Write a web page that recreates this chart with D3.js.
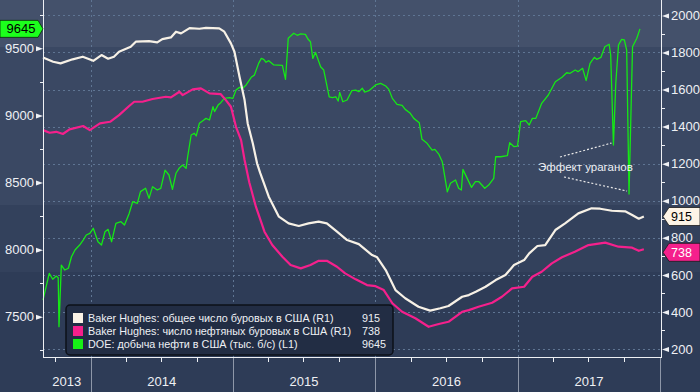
<!DOCTYPE html>
<html lang="ru">
<head>
<meta charset="UTF-8">
<title>Буровые и добыча нефти в США</title>
<script src="https://d3js.org/d3.v7.min.js"></script>
<style>
  body { margin: 0; background: #2e3c57; }
  svg { display: block; font-family: "Liberation Sans", Arial, sans-serif; }
</style>
</head>
<body>
<div id="chart"></div>
<script>
// Baker Hughes: total rig count (right axis)
const totalRigs = [
  ["2013-09-01",1773],["2013-09-27",1750],["2013-10-16",1741],["2013-11-16",1763],["2013-12-12",1777],
  ["2014-01-08",1755],["2014-01-29",1786],["2014-02-15",1766],["2014-03-02",1777],["2014-03-15",1804],
  ["2014-04-14",1831],["2014-04-27",1858],["2014-05-31",1861],["2014-06-21",1854],["2014-07-04",1872],
  ["2014-07-26",1881],["2014-08-08",1912],["2014-08-21",1903],["2014-09-12",1931],["2014-10-07",1928],
  ["2014-10-24",1933],["2014-11-27",1930],["2014-12-10",1912],["2014-12-27",1849],["2015-01-05",1804],
  ["2015-01-18",1669],["2015-01-31",1543],["2015-02-08",1417],["2015-02-21",1310],["2015-03-04",1202],
  ["2015-03-12",1150],["2015-04-03",1022],["2015-04-29",914],["2015-05-24",878],["2015-06-19",864],
  ["2015-07-14",878],["2015-08-09",887],["2015-08-30",878],["2015-09-25",833],["2015-10-21",788],
  ["2015-11-20",766],["2015-12-24",707],["2016-01-06",695],["2016-01-28",626],["2016-02-22",518],
  ["2016-03-18",474],["2016-04-21",428],["2016-05-21",407],["2016-06-16",420],["2016-07-07",432],
  ["2016-08-11",482],["2016-08-28",491],["2016-09-15",509],["2016-10-10",536],["2016-11-05",572],
  ["2016-11-30",599],["2016-12-22",653],["2017-01-17",680],["2017-01-30",716],["2017-02-20",756],
  ["2017-03-12",761],["2017-04-07",842],["2017-05-02",878],["2017-06-05",932],["2017-07-09",959],
  ["2017-07-31",957],["2017-08-30",946],["2017-10-03",943],["2017-10-21",923],["2017-11-07",903],
  ["2017-11-20",915]
];

// Baker Hughes: oil rig count (right axis)
const oilRigs = [
  ["2013-09-01",1381],["2013-09-18",1367],["2013-10-05",1372],["2013-10-22",1360],["2013-11-08",1385],
  ["2013-12-13",1403],["2013-12-30",1381],["2014-01-25",1417],["2014-02-20",1426],["2014-03-15",1462],
  ["2014-04-10",1511],["2014-04-23",1534],["2014-05-14",1534],["2014-06-09",1549],["2014-07-13",1561],
  ["2014-07-26",1558],["2014-08-17",1588],["2014-08-25",1570],["2014-09-20",1601],["2014-10-11",1606],
  ["2014-11-02",1579],["2014-12-01",1575],["2014-12-14",1543],["2014-12-27",1507],["2015-01-09",1399],
  ["2015-01-22",1327],["2015-01-31",1220],["2015-02-12",1100],["2015-03-01",968],["2015-03-23",833],
  ["2015-04-12",761],["2015-05-08",698],["2015-05-29",653],["2015-06-24",635],["2015-07-19",653],
  ["2015-08-09",676],["2015-08-30",676],["2015-09-25",644],["2015-10-16",608],["2015-11-12",576],
  ["2015-12-11",545],["2016-01-02",539],["2016-01-23",518],["2016-02-14",447],["2016-03-10",401],
  ["2016-04-13",366],["2016-05-17",320],["2016-06-12",335],["2016-07-07",347],["2016-08-11",401],
  ["2016-08-28",410],["2016-09-22",428],["2016-10-27",450],["2016-11-21",482],["2016-12-17",527],
  ["2017-01-17",536],["2017-02-07",590],["2017-03-03",617],["2017-03-29",662],["2017-04-24",695],
  ["2017-05-27",725],["2017-07-01",761],["2017-08-13",774],["2017-09-16",752],["2017-10-21",747],
  ["2017-11-07",730],["2017-11-20",738]
];

// DOE: US crude production, thousand b/d (left axis)
const production = [
  ["2013-09-01",7624],["2013-09-17",7823],["2013-09-26",7779],["2013-10-05",7803],["2013-10-10",7790],
  ["2013-10-12",7426],["2013-10-18",7885],["2013-10-27",7848],["2013-11-05",7861],["2013-11-13",7947],
  ["2013-11-22",7997],["2013-12-04",8034],["2013-12-13",8071],["2013-12-21",8109],["2013-12-30",8121],
  ["2014-01-08",8159],["2014-01-20",8059],["2014-01-29",8034],["2014-02-07",8133],["2014-02-15",8151],
  ["2014-02-24",8059],["2014-03-07",8196],["2014-03-20",8208],["2014-03-29",8183],["2014-04-10",8270],
  ["2014-04-19",8357],["2014-05-01",8345],["2014-05-09",8432],["2014-05-22",8457],["2014-05-31",8382],
  ["2014-06-09",8469],["2014-06-21",8444],["2014-06-30",8457],["2014-07-11",8593],["2014-07-21",8556],
  ["2014-07-30",8449],["2014-08-08",8569],["2014-08-16",8606],["2014-08-25",8630],["2014-09-03",8606],
  ["2014-09-07",8692],["2014-09-16",8854],["2014-09-24",8867],["2014-09-29",8847],["2014-10-07",8941],
  ["2014-10-16",8961],["2014-10-24",8978],["2014-11-02",8966],["2014-11-11",9065],["2014-11-15",9028],
  ["2014-11-24",9077],["2014-12-01",9095],["2014-12-10",9127],["2014-12-23",9132],["2015-01-01",9127],
  ["2015-01-09",9189],["2015-01-18",9209],["2015-01-26",9202],["2015-02-04",9227],["2015-02-17",9284],
  ["2015-02-25",9300],["2015-03-08",9388],["2015-03-15",9425],["2015-03-21",9418],["2015-03-27",9396],
  ["2015-04-03",9408],["2015-04-16",9376],["2015-05-08",9373],["2015-05-16",9269],["2015-05-23",9575],
  ["2015-06-06",9612],["2015-06-15",9597],["2015-06-24",9607],["2015-07-06",9604],["2015-07-13",9567],
  ["2015-07-19",9549],["2015-07-25",9425],["2015-08-01",9470],["2015-08-14",9363],["2015-08-22",9338],
  ["2015-09-05",9139],["2015-09-13",9132],["2015-09-22",9139],["2015-09-28",9107],["2015-10-02",9172],
  ["2015-10-10",9102],["2015-10-21",9115],["2015-11-02",9184],["2015-11-12",9189],["2015-11-20",9177],
  ["2015-11-29",9202],["2015-12-05",9174],["2015-12-16",9184],["2016-01-02",9227],["2016-01-15",9239],
  ["2016-01-28",9219],["2016-02-05",9194],["2016-02-14",9127],["2016-02-26",9083],["2016-03-10",9075],
  ["2016-03-18",9045],["2016-03-31",9016],["2016-04-09",8978],["2016-04-23",8946],["2016-04-30",8822],
  ["2016-05-13",8792],["2016-05-26",8742],["2016-06-02",8747],["2016-06-12",8712],["2016-06-21",8655],
  ["2016-07-04",8431],["2016-07-12",8494],["2016-07-25",8519],["2016-08-02",8457],["2016-08-09",8444],
  ["2016-08-13",8598],["2016-08-24",8531],["2016-09-04",8464],["2016-09-14",8506],["2016-09-23",8506],
  ["2016-10-08",8457],["2016-10-18",8481],["2016-10-31",8531],["2016-11-05",8692],["2016-11-18",8692],
  ["2016-12-05",8700],["2016-12-11",8797],["2016-12-22",8767],["2016-12-31",8772],["2017-01-08",8953],
  ["2017-01-21",8961],["2017-01-30",8928],["2017-02-07",8978],["2017-02-16",8978],["2017-03-03",9090],
  ["2017-03-20",9152],["2017-04-07",9251],["2017-04-24",9284],["2017-05-06",9318],["2017-05-15",9314],
  ["2017-05-28",9338],["2017-06-04",9326],["2017-06-16",9351],["2017-06-25",9259],["2017-07-05",9388],
  ["2017-07-16",9433],["2017-07-22",9418],["2017-08-02",9433],["2017-08-12",9512],["2017-08-23",9530],
  ["2017-08-27",9450],["2017-09-03",8779],["2017-09-09",9239],["2017-09-16",9525],["2017-09-24",9567],
  ["2017-10-01",9562],["2017-10-07",9487],["2017-10-13",8414],["2017-10-22",9512],["2017-11-02",9575],
  ["2017-11-10",9645]
];

const leftTicks = [7500, 8000, 8500, 9000, 9500];
const leftMinor = [7250, 7750, 8250, 8750, 9250, 9750];
const rightTicks = [200, 400, 600, 800, 1000, 1200, 1400, 1600, 1800, 2000];
const rightMinor = [300, 500, 700, 900, 1100, 1300, 1500, 1700, 1900];
const years = [2013, 2014, 2015, 2016, 2017];
const legendLabels = [
  "Baker Hughes: общее число буровых в США (R1)",
  "Baker Hughes: число нефтяных буровых в США (R1)",
  "DOE: добыча нефти в США (тыс. б/с) (L1)"
];
const lastValues = [915, 738, 9645];
const hurricaneDips = ["2017-09-03", "2017-10-13"];
const noteText = "Эффект ураганов";

const width = 700, height = 392;
const margin = { top: 0, right: 39, bottom: 35, left: 43 };
const plotW = width - margin.left - margin.right;
const plotH = height - margin.top - margin.bottom;

const parse = d3.timeParse("%Y-%m-%d");
const toPoints = arr => arr.map(d => ({ date: parse(d[0]), value: d[1] }));
const total = toPoints(totalRigs), oil = toPoints(oilRigs), prod = toPoints(production);

const x = d3.scaleTime()
  .domain([new Date(2013, 8, 1), new Date(2018, 0, 3)])
  .range([margin.left, margin.left + plotW]);
const yL = d3.scaleLinear().domain([7200, 9860]).range([plotH, 0]);
const yR = d3.scaleLinear().domain([157, 2083]).range([plotH, 0]);

const svg = d3.select("#chart").append("svg")
  .attr("width", width).attr("height", height);

// background bands
const bands = [[0, 47, "#44516b"], [47, 205, "#3a4863"], [205, 272, "#33415c"], [272, height, "#2e3c57"]];
svg.selectAll("rect.band").data(bands).join("rect")
  .attr("x", 0).attr("y", d => d[0]).attr("width", width).attr("height", d => d[1] - d[0])
  .attr("fill", d => d[2]);

// grid
const grid = svg.append("g").attr("stroke", "#5f7593").attr("stroke-width", 1).attr("stroke-dasharray", "2,3");
grid.selectAll("line.h").data(rightTicks).join("line")
  .attr("x1", margin.left).attr("x2", margin.left + plotW)
  .attr("y1", d => Math.round(yR(d)) + 0.5).attr("y2", d => Math.round(yR(d)) + 0.5);
const yearStarts = years.slice(1).map(y => new Date(y, 0, 1));
grid.selectAll("line.v").data(yearStarts).join("line")
  .attr("x1", d => Math.round(x(d)) + 0.5).attr("x2", d => Math.round(x(d)) + 0.5)
  .attr("y1", 0).attr("y2", plotH);

// lines
const lineL = d3.line().x(d => x(d.date)).y(d => yL(d.value));
const lineR = d3.line().x(d => x(d.date)).y(d => yR(d.value));
svg.append("path").datum(prod).attr("fill", "none").attr("stroke", "#16e816")
  .attr("stroke-width", 1.3).attr("stroke-linejoin", "round").attr("d", lineL);
svg.append("path").datum(oil).attr("fill", "none").attr("stroke", "#f5208c")
  .attr("stroke-width", 2.2).attr("stroke-linejoin", "round").attr("d", lineR);
svg.append("path").datum(total).attr("fill", "none").attr("stroke", "#f7f1e6")
  .attr("stroke-width", 2.2).attr("stroke-linejoin", "round").attr("d", lineR);

// hurricane annotation
const dip1 = prod.find(d => +d.date === +parse(hurricaneDips[0]));
const dip2 = prod.find(d => +d.date === +parse(hurricaneDips[1]));
const note = svg.append("g");
note.append("line").attr("x1", 560).attr("y1", 157).attr("x2", x(dip1.date) - 2).attr("y2", yL(dip1.value) - 2);
note.append("line").attr("x1", 564).attr("y1", 177).attr("x2", x(dip2.date) - 2).attr("y2", yL(dip2.value) - 3);
note.selectAll("line").attr("stroke", "#e8e8e8").attr("stroke-width", 1.2).attr("stroke-dasharray", "2,2");
note.append("text").attr("x", 538).attr("y", 171).attr("fill", "#eef0f4")
  .attr("font-size", 11.5).text(noteText);

// axes
const axisCol = "#eef0f4";
svg.append("line").attr("x1", margin.left + 0.5).attr("x2", margin.left + 0.5).attr("y1", 0).attr("y2", plotH + 1)
  .attr("stroke", axisCol);
svg.append("line").attr("x1", margin.left + plotW + 0.5).attr("x2", margin.left + plotW + 0.5).attr("y1", 0).attr("y2", plotH + 1)
  .attr("stroke", axisCol);
svg.append("line").attr("x1", margin.left).attr("x2", margin.left + plotW + 1).attr("y1", plotH + 0.5).attr("y2", plotH + 0.5)
  .attr("stroke", axisCol);

// left ticks
const gl = svg.append("g").attr("transform", `translate(${margin.left},0)`)
  .call(d3.axisLeft(yL).tickValues(leftTicks).tickSize(0).tickPadding(9).tickFormat(d3.format("d")));
gl.select(".domain").remove();
gl.selectAll(".tick text").attr("fill", axisCol).attr("font-size", 13).attr("font-family", "Liberation Sans, Arial, sans-serif");
gl.selectAll(".tick").append("path").attr("d", "M0,0L-7,-2.5L-7,2.5Z").attr("fill", axisCol);
svg.append("g").selectAll("line").data(leftMinor).join("line")
  .attr("x1", margin.left - 3).attr("x2", margin.left)
  .attr("y1", d => Math.round(yL(d)) + 0.5).attr("y2", d => Math.round(yL(d)) + 0.5)
  .attr("stroke", axisCol);

// right ticks
const gr = svg.append("g").attr("transform", `translate(${margin.left + plotW + 1},0)`)
  .call(d3.axisRight(yR).tickValues(rightTicks).tickSize(0).tickPadding(9).tickFormat(d3.format("d")));
gr.select(".domain").remove();
gr.selectAll(".tick text").attr("fill", axisCol).attr("font-size", 13).attr("font-family", "Liberation Sans, Arial, sans-serif");
gr.selectAll(".tick").append("path").attr("d", "M0,0L7,-2.5L7,2.5Z").attr("fill", axisCol);
svg.append("g").selectAll("line").data(rightMinor).join("line")
  .attr("x1", margin.left + plotW + 1).attr("x2", margin.left + plotW + 4)
  .attr("y1", d => Math.round(yR(d)) + 0.5).attr("y2", d => Math.round(yR(d)) + 0.5)
  .attr("stroke", axisCol);

// bottom ticks: quarters and year separators
const [d0, d1] = x.domain();
const quarters = d3.timeMonth.every(3).range(d0, d1).filter(d => d.getMonth() !== 0);
svg.append("g").selectAll("line").data(quarters).join("line")
  .attr("x1", d => Math.round(x(d)) + 0.5).attr("x2", d => Math.round(x(d)) + 0.5)
  .attr("y1", plotH).attr("y2", plotH + 5).attr("stroke", axisCol);
const seps = years.slice(1).concat([2018]).map(y => new Date(y, 0, 1));
svg.append("g").selectAll("line").data(seps).join("line")
  .attr("x1", d => Math.min(Math.round(x(d)), margin.left + plotW) + 0.5)
  .attr("x2", d => Math.min(Math.round(x(d)), margin.left + plotW) + 0.5)
  .attr("y1", plotH + 1).attr("y2", height).attr("stroke", "#8e97a8");
svg.append("g").selectAll("text").data(years).join("text")
  .attr("x", y => {
    const a = Math.max(x(new Date(y, 0, 1)), x(d0));
    const b = Math.min(x(new Date(y + 1, 0, 1)), x(d1));
    return (a + b) / 2;
  })
  .attr("y", 386).attr("text-anchor", "middle").attr("fill", axisCol).attr("font-size", 13)
  .text(d => d);

// legend
const lg = svg.append("g");
lg.append("rect").attr("x", 66).attr("y", 305).attr("width", 327).attr("height", 50).attr("rx", 4)
  .attr("fill", "#222d44").attr("stroke", "#0c1019").attr("stroke-width", 1.5);
const legendColors = ["#fbf3e6", "#f5208c", "#16f016"];
legendLabels.forEach((t, i) => {
  const cy = 318 + i * 13;
  lg.append("rect").attr("x", 73).attr("y", cy - 5).attr("width", 10).attr("height", 10).attr("fill", legendColors[i]);
  lg.append("text").attr("x", 88).attr("y", cy + 4).attr("fill", "#eef0f4").attr("font-size", 10.8).text(t);
  lg.append("text").attr("x", 362).attr("y", cy + 4).attr("fill", "#eef0f4").attr("font-size", 10.8).text(lastValues[i]);
});

// last value tags
const lastProd = prod[prod.length - 1];
const ty = yL(lastProd.value);
svg.append("path").attr("d", `M0,${ty - 8.5}H38L43,${ty}L38,${ty + 8.5}H0Z`)
  .attr("fill", "#1cff1c").attr("stroke", "#0a2a0a").attr("stroke-width", 0.8);
svg.append("text").attr("x", 21).attr("y", ty + 4.5).attr("text-anchor", "middle")
  .attr("fill", "#000").attr("font-size", 13).text(lastProd.value);

const rtags = [
  { v: total[total.length - 1].value, fill: "#fdf4e6", text: "#000", dy: 0 },
  { v: oil[oil.length - 1].value, fill: "#f5208c", text: "#fff", dy: 3 }
];
const rx0 = margin.left + plotW + 2;
rtags.forEach(t => {
  const cy = yR(t.v) + t.dy;
  svg.append("path").attr("d", `M${rx0},${cy}L${rx0 + 6},${cy - 9}H${width}V${cy + 9}H${rx0 + 6}Z`)
    .attr("fill", t.fill).attr("stroke", "#1a1a1a").attr("stroke-width", 0.8);
  svg.append("text").attr("x", rx0 + 8).attr("y", cy + 4.5).attr("fill", t.text).attr("font-size", 12.5).text(t.v);
});
</script>
</body>
</html>
